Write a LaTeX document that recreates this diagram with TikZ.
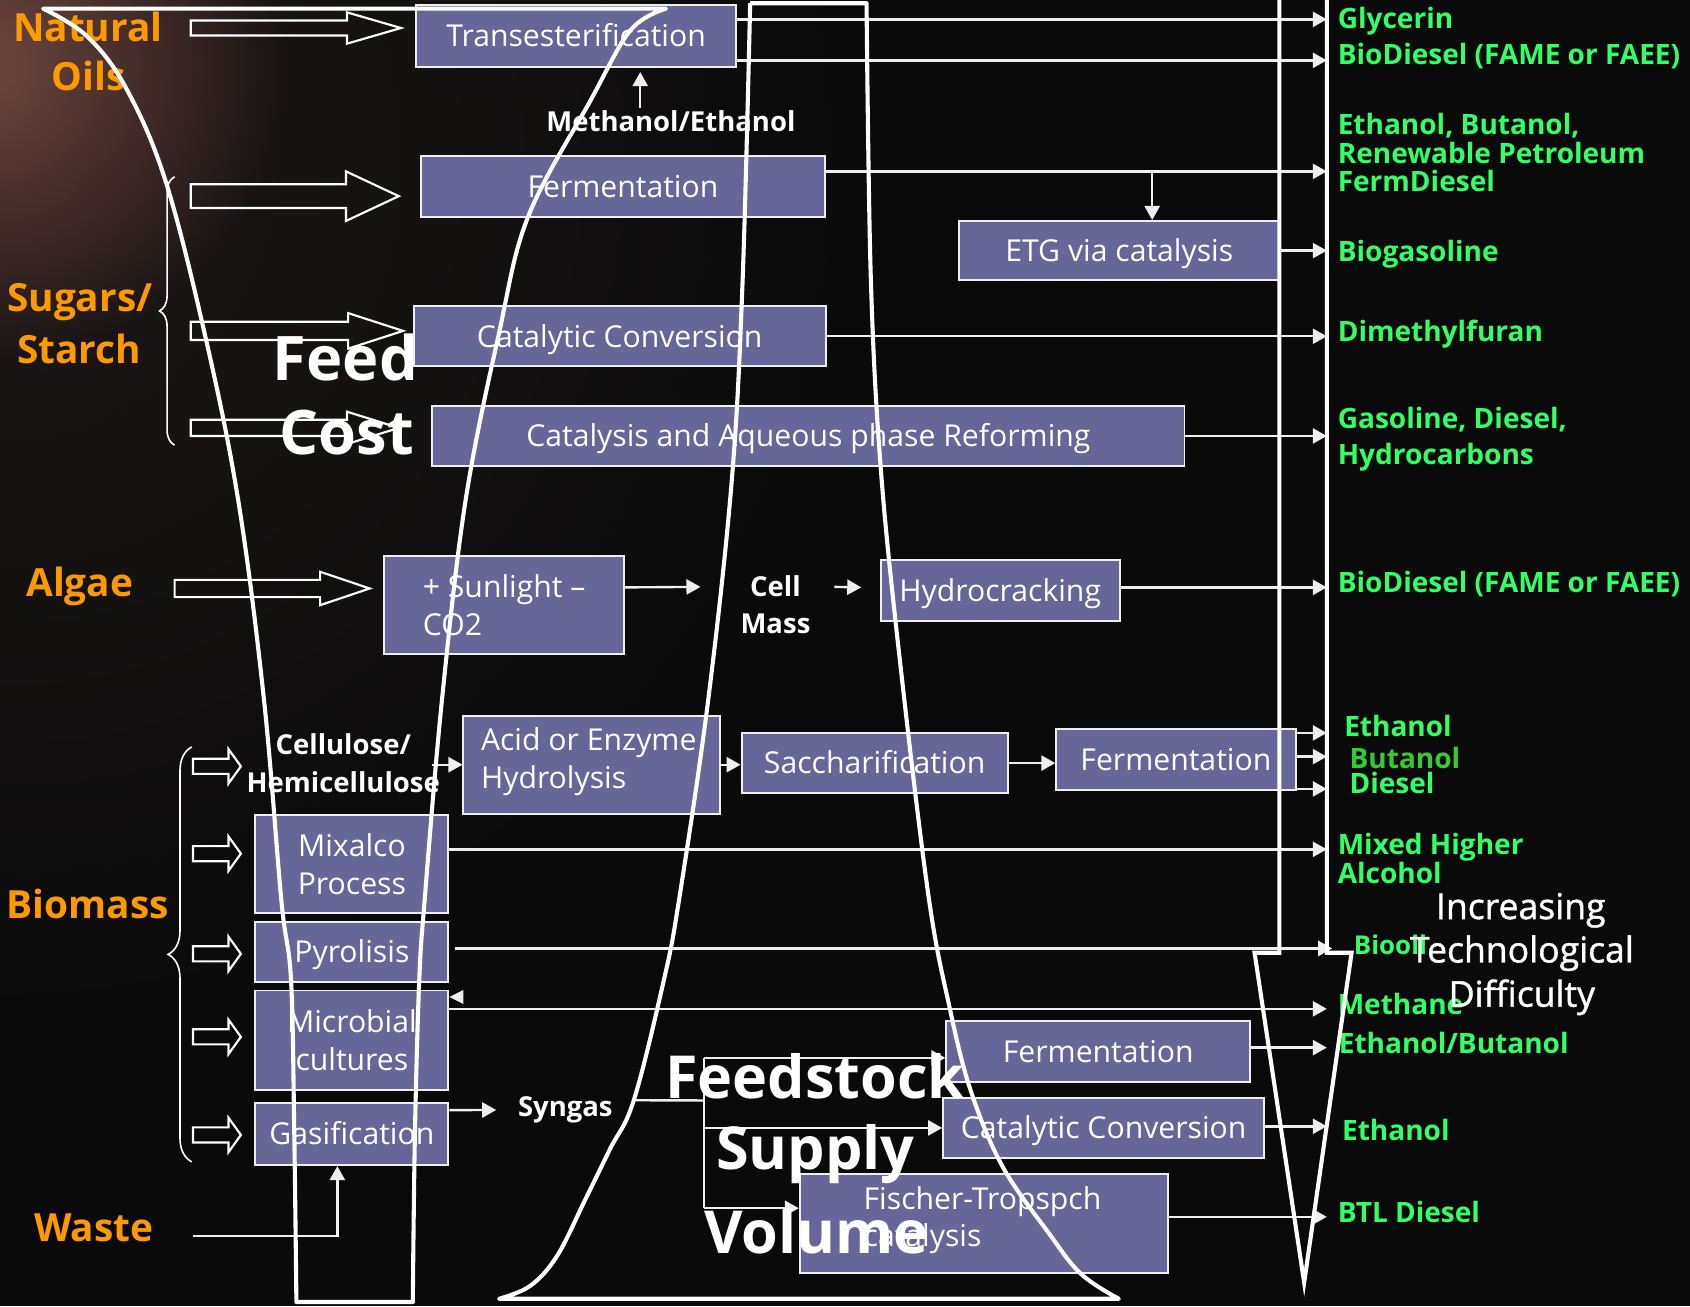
\documentclass[tikz,border=0pt]{standalone}
\usepackage{fontspec}
\setmainfont{Open Sans}
\newfontfamily\medfont[FakeBold=1.2]{Open Sans}
\usetikzlibrary{arrows.meta,decorations.pathreplacing,calc}
\definecolor{bg}{RGB}{10,10,10}
\definecolor{boxfill}{RGB}{102,102,153}
\definecolor{orng}{RGB}{255,153,0}
\definecolor{grn}{RGB}{51,255,102}
\definecolor{dgrn}{RGB}{51,204,51}
\definecolor{lineclr}{RGB}{238,238,238}
\definecolor{glow}{RGB}{112,70,64}
\definecolor{glowwide}{RGB}{30,24,24}
\newcommand\hollowarr[6]{%
  \draw[hollow] (#1,#4-#5) -- (#2,#4-#5) -- (#2,#4-#6) -- (#3,#4) -- (#2,#4+#6) -- (#2,#4+#5) -- (#1,#4+#5) -- cycle;}
\tikzset{
  box/.style={draw=lineclr, line width=1.8pt, fill=boxfill, text=white, inner sep=0pt,
    font=\fontsize{28}{35}\selectfont, text height=20pt, text depth=0pt},
  boxml/.style={draw=lineclr, line width=1.8pt, fill=boxfill, text=white, inner sep=0pt,
    font=\fontsize{28}{35}\selectfont, align=center},
  boxtxt/.style={text=white, inner sep=0pt, font=\fontsize{28}{35}\selectfont, align=left, anchor=west},
  conn/.style={draw=lineclr, line width=2.2pt},
  arr/.style={conn, -{Triangle[length=13pt,width=14pt]}},
  hollow/.style={draw=white, line width=2pt, line join=miter},
  bigline/.style={draw=white, line width=3.8pt},
  bracestyle/.style={draw=white, line width=1.5pt, decorate},
  glabel/.style={text=grn, font=\bfseries\fontsize{26}{30}\selectfont, inner sep=0pt, anchor=base west},
  olabel/.style={text=orng, font=\bfseries\fontsize{36}{40}\selectfont, inner sep=0pt, anchor=base},
  wlabel/.style={text=white, font=\bfseries\fontsize{25.5}{35}\selectfont, inner sep=0pt, anchor=base},
  wlabelml/.style={text=white, font=\bfseries\fontsize{25.5}{35}\selectfont, inner sep=0pt, align=center},
  bigtxt/.style={text=white, font=\bfseries\fontsize{57}{60}\selectfont, inner sep=0pt, anchor=base},
  supptxt/.style={text=white, font=\bfseries\fontsize{55}{60}\selectfont, inner sep=0pt, anchor=base},
  difftxt/.style={text=white, font=\medfont\fontsize{33}{40}\selectfont, inner sep=0pt, anchor=base},
}
\begin{document}
\begin{tikzpicture}[x=1pt,y=-1pt]
\useasboundingbox (0,0) rectangle (1568,1212);
\fill[bg] (0,0) rectangle (1568,1212);
\begin{scope}
  \clip (0,0) rectangle (1568,1212);
  \shade[inner color=glowwide, outer color=bg] (0,150) circle (800);
  \shade[inner color=glow, outer color=glowwide!70!bg] (-15,60) circle (280);
\end{scope}

% hollow input arrows
\hollowarr{177}{322}{372}{26}{7}{14.5}
\hollowarr{177}{321}{370}{182}{11}{23}
\hollowarr{177}{323}{374}{307}{8.5}{16.5}
\hollowarr{177}{322}{370}{397}{7.5}{15}
\hollowarr{162}{297}{343}{546}{8}{15.5}
\foreach \yy in {711,792,885,962,1053}{\hollowarr{179}{212}{223.5}{\yy}{7}{16}}

% braces
\draw[bracestyle, decoration={brace, amplitude=14pt}] (162,413) -- (162,164);
\draw[bracestyle, decoration={brace, amplitude=22pt}] (178,1078) -- (178,693);

% boxes
\node[box, minimum width=297, minimum height=57] (trans) at (534.5,33.5) {Transesterification};
\node[box, minimum width=374, minimum height=56] (ferm1) at (578,173) {Fermentation};
\node[box, minimum width=297, minimum height=55] (etg) at (1038.5,232.5) {ETG via catalysis};
\node[box, minimum width=382, minimum height=56] (cat1) at (575,312) {Catalytic Conversion};
\node[box, minimum width=698, minimum height=55] (capr) at (750,404.5) {Catalysis and Aqueous phase Reforming};
\node[box, minimum width=223, minimum height=91] (sun) at (467.5,561.5) {};
\node[boxtxt] (sunT) at ([xshift=37pt]sun.west) {+ Sunlight –\\CO2};
\node[box, minimum width=222, minimum height=56] (hydro) at (928,548) {Hydrocracking};
\node[box, minimum width=238, minimum height=91] (acid) at (549,709.5) {};
\node[boxtxt] (acidT) at ([xshift=17pt,yshift=3pt]acid.west) {Acid or Enzyme\\Hydrolysis};
\node[box, minimum width=247, minimum height=56] (sacch) at (811.5,708) {Saccharification};
\node[box, minimum width=222, minimum height=57] (ferm2) at (1091,704.5) {Fermentation};
\node[boxml, minimum width=179, minimum height=91] (mix) at (326.5,801.5) {Mixalco\\Process};
\node[box, minimum width=179, minimum height=56] (pyro) at (326.5,883) {Pyrolisis};
\node[boxml, minimum width=179, minimum height=92] (micro) at (326.5,965) {Microbial\\cultures};
\node[box, minimum width=179, minimum height=58] (gasi) at (326.5,1052) {Gasification};
\node[box, minimum width=282, minimum height=57] (ferm3) at (1019,975.5) {Fermentation};
\node[box, minimum width=298, minimum height=55] (cat3) at (1024,1046.5) {Catalytic Conversion};
\node[box, minimum width=342, minimum height=92] (ft) at (913,1135) {};
\node[boxtxt] (ftT) at ([xshift=60pt,yshift=3pt]ft.west) {Fischer-Tropspch\\catalysis};

% labels
\node[olabel] (natural) at (81.5,38.7) {Natural};
\node[olabel] (oils) at (82,84) {Oils};
\node[olabel] (sugars) at (74,289) {Sugars/};
\node[olabel] (starch) at (73.5,337) {Starch};
\node[olabel] (algae) at (74,553.6) {Algae};
\node[olabel] (biomass) at (81.5,852) {Biomass};
\node[olabel] (waste) at (87,1152) {Waste};

\node[wlabel] (meth) at (622.5,122) {Methanol/Ethanol};
\node[wlabelml] (cellm) at (719.5,561) {Cell\\Mass};
\node[wlabelml] (cellu) at (318.5,708) {Cellulose/\\Hemicellulose};
\node[wlabel] (syngas) at (524.5,1036) {Syngas};

\node[glabel] (g1) at (1241,26.3) {Glycerin};
\node[glabel] (g2) at (1241,60.3) {BioDiesel (FAME or FAEE)};
\node[glabel] (g3a) at (1241,125) {Ethanol, Butanol,};
\node[glabel] (g3b) at (1241,151.6) {Renewable Petroleum};
\node[glabel] (g3c) at (1241,177.8) {FermDiesel};
\node[glabel] (g4) at (1241,242.8) {Biogasoline};
\node[glabel] (g5) at (1241,317) {Dimethylfuran};
\node[glabel] (g6a) at (1241,397.5) {Gasoline, Diesel,};
\node[glabel] (g6b) at (1241,430.8) {Hydrocarbons};
\node[glabel] (g7) at (1241,550) {BioDiesel (FAME or FAEE)};
\node[glabel] (g8a) at (1247,683.5) {Ethanol};
\node[glabel, text=dgrn] (g8b) at (1252,712.7) {Butanol};
\node[glabel] (g8c) at (1252,736) {Diesel};
\node[glabel] (g9a) at (1241,793) {Mixed Higher};
\node[glabel] (g9b) at (1241,819.5) {Alcohol};
\node[glabel, font=\bfseries\fontsize{24}{28}\selectfont] (g10) at (1256,886) {Biooil};
\node[glabel] (g11) at (1241,941.7) {Methane};
\node[glabel] (g12) at (1242,977) {Ethanol/Butanol};
\node[glabel] (g13) at (1245,1057.7) {Ethanol};
\node[glabel] (g14) at (1241,1134) {BTL Diesel};

% connectors
\coordinate (rail) at (1231,0);
\draw[arr] ([yshift=15.5pt]trans.east) -- ([yshift=15.5pt]trans.east -| rail);
\draw[arr] ([yshift=-22.5pt]trans.east) -- ([yshift=-22.5pt]trans.east -| rail);
\draw[arr, shorten <=2pt, shorten >=4pt] ([xshift=-28.5pt]meth.north) -- ([xshift=-28.5pt]meth.north |- trans.south);
\draw[arr] ([yshift=14pt]ferm1.east) -- ([yshift=14pt]ferm1.east -| rail);
\coordinate (br) at (1069,159);
\draw[arr] (br) -- (br |- etg.north);
\draw[arr] (etg.east) -- (etg.east -| rail);
\draw[arr] (cat1.east) -- (cat1.east -| rail);
\draw[arr] (capr.east) -- (capr.east -| rail);
\draw[arr] ([yshift=16.5pt]sun.east) -- ([xshift=-37pt,yshift=16.5pt]cellm.west);
\draw[arr] ([xshift=22pt,yshift=16.5pt]cellm.east) -- ([xshift=-17pt,yshift=3pt]hydro.west);
\draw[arr] ([yshift=3pt]hydro.east) -- ([yshift=3pt]hydro.east -| rail);
\draw[arr] ([xshift=-28pt]acid.west) -- (acid.west);
\draw[arr] (acid.east) -- (acid.east -| sacch.west);
\draw[arr] (sacch.east) -- (sacch.east -| ferm2.west);
\draw[arr] ([yshift=24.5pt]ferm2.east) -- ([yshift=24.5pt]ferm2.east -| rail);
\draw[arr] ([yshift=2.5pt]ferm2.east) -- ([yshift=2.5pt]ferm2.east -| rail);
\draw[arr] ([yshift=-27.5pt]ferm2.east) -- ([yshift=-27.5pt]ferm2.east -| rail);
\draw[arr] ([yshift=13.5pt]mix.east) -- ([yshift=13.5pt]mix.east -| rail);
\draw[arr] ([xshift=5pt,yshift=3pt]pyro.east) -- ([xshift=5pt,yshift=3pt]pyro.east -| rail);
\draw[arr] ([yshift=29pt]micro.east) -- ([yshift=29pt]micro.east -| rail);
\fill[lineclr] ([yshift=40pt]micro.east) -- ++(13,-6.5) -- ++(0,13) -- cycle;
\draw[arr] ([yshift=22pt]gasi.east) -- ([xshift=-20pt]syngas.west);
\coordinate (sj) at (653,1021);
\coordinate (sjt) at (653,981.5);
\coordinate (sjb) at (653,1121);
\draw[conn] ([xshift=19pt,yshift=9pt]syngas.east) -- (sj);
\draw[conn] (sjt) -- (sjb);
\draw[arr] (sjt) -- (sjt -| ferm3.west);
\draw[arr] (sj |- cat3.west) -- (cat3.west);
\draw[arr] (sjb) -- (sjb -| ft.west);
\draw[arr] ([yshift=3.5pt]ferm3.east) -- ([yshift=3.5pt]ferm3.east -| rail);
\draw[arr] ([yshift=1.5pt]cat3.east) -- ([yshift=1.5pt]cat3.east -| rail);
\draw[arr] ([yshift=6pt]ft.east) -- ([yshift=6pt]ft.east -| rail);
\draw[arr] ([xshift=37pt,yshift=-7.5pt]waste.east) -| ([xshift=-13.5pt]gasi.south);

% big outline shapes
\draw[bigline, line join=round] plot[smooth, tension=0.6] coordinates {(275,1208) (273,1050) (270,909) (261,835) (245,650) (221,464) (190,310) (153,166) (116,80) (80,33) (40,8)}
  -- plot[smooth, tension=0.6] coordinates {(618,8) (585,28) (548,93) (490,201) (463,309) (432,464) (410,650) (394,835) (389,909) (385,1050) (383,1208)} -- cycle;
\draw[bigline, line join=round] (696,3) -- plot[smooth, tension=0.6] coordinates {(804,3) (808,260) (818,445) (838,640) (862,835) (880,930) (900,1010) (930,1082) (973,1144) (1003,1182) (1038,1205)}
  -- plot[smooth, tension=0.6] coordinates {(463,1205) (492,1193) (517,1165) (543,1113) (566,1066) (588,1021) (616,909) (630,835) (657,650) (679,445) (689,260) (696,3)};
\draw[bigline, line join=miter] (1187,-5) -- (1187,884) -- (1164,884) -- (1210,1190) -- (1254,884) -- (1231,884) -- (1231,-5);

% big texts
\node[bigtxt] (feed) at (320.5,352.6) {Feed};
\node[bigtxt] (cost) at (321.5,422) {Cost};
\node[supptxt] (feedstock) at (756,1019) {Feedstock};
\node[supptxt] (supply) at (756.5,1085.5) {Supply};
\node[supptxt] (volume) at (757.5,1162.7) {Volume};
\node[difftxt] (incr) at (1411,852.7) {Increasing};
\node[difftxt] (techn) at (1412,893) {Technological};
\node[difftxt] (diff) at (1412,934) {Difficulty};
\end{tikzpicture}
\end{document}
